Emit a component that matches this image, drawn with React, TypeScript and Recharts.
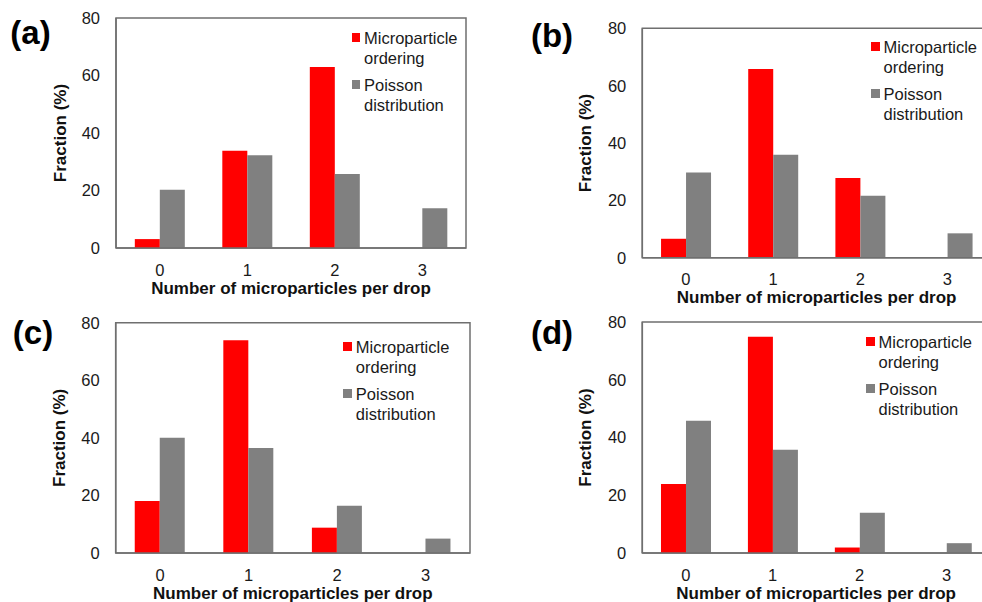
import { BarChart, Bar, XAxis, YAxis, Legend, ReferenceArea } from 'recharts';

// number of microparticles per drop
const categories = ['0', '1', '2', '3'];
const yTicks = [0, 20, 40, 60, 80];

const orderingA = [3.1, 33.8, 63, 0];
const poissonA = [20.3, 32.3, 25.7, 13.8];
const orderingB = [6.6, 65.8, 27.8, 0];
const poissonB = [29.7, 35.9, 21.6, 8.5];
const orderingC = [18.1, 73.9, 8.8, 0];
const poissonC = [40, 36.5, 16.4, 5];
const orderingD = [23.9, 74.9, 1.9, 0];
const poissonD = [45.8, 35.8, 13.9, 3.4];

const FONT = '"Liberation Sans", Arial, sans-serif';
const FRAME = '#6f6f6f';
const RED = '#ff0000';
const GRAY = '#808080';

type PanelProps = {
  tag: string;
  ordering: number[];
  poisson: number[];
  left: number;
  top: number;
  width: number;
  height: number;
  plotLeft: number;
  plotRight: number;
  plotTop: number;
  plotBottom: number;
  legendX: number;
  legendY: number;
  tagX: number;
  tagY: number;
  yTitleX: number;
};

function Panel(p: PanelProps) {
  const data = categories.map((c, i) => ({ n: c, ordering: p.ordering[i], poisson: p.poisson[i] }));
  const midY = (p.plotTop + p.plotBottom) / 2;
  const midX = (p.plotLeft + p.plotRight) / 2;

  const renderLegend = (props: any) => (
    <div style={{ fontFamily: FONT, fontSize: 16.5, color: '#1a1a1a', lineHeight: '20px' }}>
      {(props.payload || []).map((e: any, i: number) => (
        <div key={i} style={{ display: 'flex', alignItems: 'flex-start', marginBottom: i === 0 ? 7 : 0 }}>
          <span style={{ display: 'inline-block', flex: 'none', width: 8.5, height: 8.5, background: e.color, marginTop: 5.5, marginRight: 4 }} />
          <span style={{ width: 108 }}>{e.value}</span>
        </div>
      ))}
    </div>
  );

  return (
    <div style={{ position: 'absolute', left: p.left, top: p.top, width: p.width, height: p.height }}>
      <BarChart
        width={p.width}
        height={p.height}
        data={data}
        margin={{ top: p.plotTop, right: p.width - p.plotRight, bottom: 0, left: 0 }}
        barCategoryGap="21.5%"
        barGap={0}
      >
        <XAxis
          dataKey="n"
          height={p.height - p.plotBottom}
          tickLine={false}
          tickSize={0}
          tickMargin={16}
          axisLine={{ stroke: FRAME, strokeWidth: 1.5 }}
          tick={{ fill: '#1a1a1a', fontSize: 16.5, fontFamily: FONT }}
          label={() => (
            <text x={midX} y={p.plotBottom + 40} textAnchor="middle" dominantBaseline="central"
              style={{ fontFamily: FONT, fontSize: 17, fontWeight: 'bold', fill: '#111' }}>
              Number of microparticles per drop
            </text>
          )}
        />
        <YAxis
          width={p.plotLeft}
          domain={[0, 80]}
          ticks={yTicks}
          interval={0}
          tickLine={false}
          tickSize={0}
          tickMargin={16}
          axisLine={{ stroke: FRAME, strokeWidth: 1.5 }}
          tick={{ fill: '#1a1a1a', fontSize: 16.5, fontFamily: FONT }}
          label={() => (
            <text x={p.yTitleX} y={midY} textAnchor="middle" dominantBaseline="central"
              transform={`rotate(-90 ${p.yTitleX} ${midY})`}
              style={{ fontFamily: FONT, fontSize: 17, fontWeight: 'bold', fill: '#111' }}>
              Fraction (%)
            </text>
          )}
        />
        <ReferenceArea y1={0} y2={80} fill="none" fillOpacity={0} stroke={FRAME} strokeWidth={1.5} ifOverflow="visible" />
        <Legend
          layout="vertical"
          align="center"
          verticalAlign="middle"
          wrapperStyle={{ position: 'absolute', left: p.legendX, top: p.legendY - 10, width: 130, margin: 0 }}
          content={renderLegend}
        />
        <Bar dataKey="ordering" name="Microparticle ordering" fill={RED} isAnimationActive={false} />
        <Bar dataKey="poisson" name="Poisson distribution" fill={GRAY} isAnimationActive={false} />
      </BarChart>
      <div style={{
        position: 'absolute', left: p.tagX - 40, top: p.tagY - 20, width: 80, height: 40, lineHeight: '40px',
        textAlign: 'center', fontFamily: FONT, fontWeight: 'bold', fontSize: 33, color: '#000',
      }}>
        {p.tag}
      </div>
    </div>
  );
}

export default function App() {
  return (
    <div style={{ position: 'absolute', left: 0, top: 0, width: 982, height: 602, overflow: 'hidden', background: '#fff' }}>
      <Panel tag="(a)" ordering={orderingA} poisson={poissonA}
        left={0} top={0} width={490} height={300}
        plotLeft={116} plotRight={466} plotTop={18} plotBottom={248}
        legendX={351.5} legendY={37.7} tagX={30.5} tagY={33} yTitleX={60} />
      <Panel tag="(b)" ordering={orderingB} poisson={poissonB}
        left={490} top={0} width={510} height={312}
        plotLeft={152.3} plotRight={501} plotTop={28.3} plotBottom={257.7}
        legendX={381} legendY={46.7} tagX={62} tagY={36} yTitleX={95} />
      <Panel tag="(c)" ordering={orderingC} poisson={poissonC}
        left={0} top={300} width={490} height={302}
        plotLeft={115.7} plotRight={470} plotTop={22.7} plotBottom={253}
        legendX={343.3} legendY={46.7} tagX={33} tagY={33} yTitleX={60} />
      <Panel tag="(d)" ordering={orderingD} poisson={poissonD}
        left={490} top={300} width={510} height={302}
        plotLeft={152.3} plotRight={500} plotTop={22} plotBottom={253}
        legendX={376} legendY={41.7} tagX={62} tagY={33} yTitleX={95} />
    </div>
  );
}
